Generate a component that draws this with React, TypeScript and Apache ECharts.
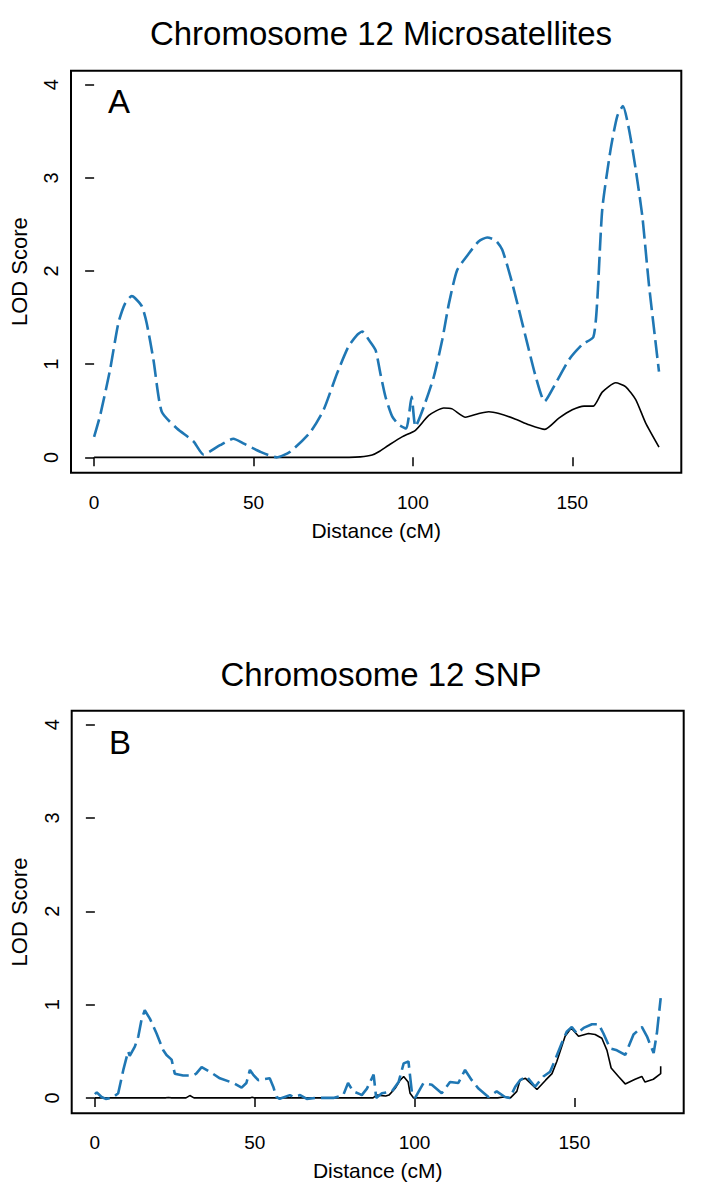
import React, { useEffect, useRef } from "react";
import * as echarts from "echarts";

const FONT = "'Liberation Sans', Arial, Helvetica, sans-serif";
const BLUE = "#1f77b4";

const xTicks = [0, 50, 100, 150];
const yTicks = [0, 1, 2, 3, 4];

const titleA = "Chromosome 12 Microsatellites";
const titleB = "Chromosome 12 SNP";
const xName = "Distance (cM)";
const yName = "LOD Score";

// Panel A (microsatellites): [distance cM, LOD]
const microSolid = [
  [0, 0], [20, 0], [40, 0], [60, 0], [80, 0], [83.5, 0.005], [87.2, 0.025], [89.3, 0.06],
  [92.4, 0.13], [96.6, 0.22], [100.8, 0.29], [105, 0.45], [109.7, 0.53], [112.3, 0.52],
  [116.5, 0.43], [120.7, 0.47], [123.8, 0.49], [127, 0.47], [132.2, 0.41], [136.4, 0.35],
  [141.4, 0.3], [145.8, 0.42], [150, 0.51], [153.7, 0.55], [156.6, 0.55], [159.4, 0.7],
  [163.6, 0.8], [166.7, 0.76], [169.9, 0.62], [173, 0.37], [177.2, 0.11],
];
const microDashed = [
  [0, 0.22], [1.9, 0.45], [5, 0.94], [7.6, 1.44], [9.7, 1.65], [11.8, 1.73], [12.8, 1.71],
  [15, 1.62], [16.5, 1.44], [18.6, 1.05], [21.2, 0.49], [26, 0.31], [31.2, 0.17], [34.3, 0.03],
  [39.5, 0.13], [43.7, 0.2], [46.8, 0.15], [52.1, 0.06], [57.3, 0], [61.5, 0.06], [67.8, 0.27],
  [72, 0.51], [76.2, 0.9], [79.8, 1.19], [82.4, 1.31], [84.1, 1.35], [86.2, 1.26], [88.3, 1.15],
  [89.8, 0.9], [91.4, 0.65], [93.5, 0.44], [95.6, 0.35], [97.9, 0.31], [99.6, 0.65], [100.8, 0.33],
  [103.4, 0.54], [106.6, 0.87], [109.2, 1.26], [111.3, 1.65], [113.9, 2.01], [117.6, 2.19],
  [120.7, 2.32], [123.3, 2.36], [125.9, 2.33], [128, 2.23], [130.6, 1.94], [133.3, 1.58],
  [135.9, 1.22], [138.5, 0.87], [141.3, 0.6], [144.7, 0.79], [149, 1.05], [153.1, 1.21],
  [156.6, 1.29], [157.8, 1.66], [159.4, 2.66], [162, 3.3], [164.1, 3.66], [165.9, 3.77],
  [167.8, 3.52], [169.9, 3.09], [172, 2.58], [174, 1.87], [177.2, 0.92],
];

// Panel B (SNP): [distance cM, LOD]
const snpSolid = [
  [0, 0], [22, 0], [23, 0.005], [24, 0], [28.5, 0], [29.7, 0.025], [31, 0], [48.5, 0],
  [49.2, 0.008], [50, 0], [87, 0], [88.2, 0.03], [91, 0.02], [92, 0.03], [93.9, 0.1],
  [95.5, 0.19], [96.6, 0.23], [98, 0.17], [98.6, 0.05], [99.7, 0], [126, 0], [128, 0.01],
  [130, 0], [132, 0.07], [133, 0.19], [134.7, 0.21], [138.3, 0.09], [141, 0.19], [143, 0.26],
  [144.5, 0.39], [147.1, 0.66], [149, 0.75], [151.3, 0.66], [154.4, 0.69], [156.5, 0.68],
  [158.6, 0.64], [160.2, 0.51], [161.5, 0.32], [163.8, 0.23], [165.9, 0.15], [169, 0.2],
  [171.1, 0.23], [172.1, 0.17], [174.7, 0.2], [177, 0.26], [177, 0.34],
];
const snpDashed = [
  [0, 0.04], [0.6, 0.06], [2.1, 0.01], [3.4, -0.01], [5.5, 0], [7.3, 0.05], [8.9, 0.3],
  [10.4, 0.5], [10.9, 0.45], [12.5, 0.55], [13.6, 0.66], [14.6, 0.84], [15.6, 0.94],
  [17.2, 0.85], [19.3, 0.69], [21.4, 0.51], [22.4, 0.46], [24, 0.41], [25, 0.26], [27.6, 0.24],
  [30.7, 0.24], [31.7, 0.26], [33.4, 0.33], [36, 0.28], [39.1, 0.21], [43.3, 0.16], [45.9, 0.11],
  [47.4, 0.16], [48.5, 0.3], [49.5, 0.25], [51.1, 0.19], [54.7, 0.21], [55.8, 0.12], [56.8, 0.01],
  [57.8, -0.01], [61, 0.03], [62.1, 0.01], [64.2, 0.03], [66.3, -0.01], [69.4, 0], [74.6, 0],
  [77.7, 0.03], [79.2, 0.16], [80.8, 0.07], [82.9, 0.04], [83.5, 0.03], [85.1, 0.1], [87.2, 0.25],
  [88, 0], [89.8, 0.05], [92.9, 0.07], [95, 0.17], [96.6, 0.37], [98.1, 0.39], [99.2, 0.05],
  [100.2, 0], [101.8, 0.1], [102.8, 0.16], [105.4, 0.14], [108.5, 0.05], [111.1, 0.17],
  [113.7, 0.16], [115.8, 0.3], [117.9, 0.19], [120, 0.1], [123.1, 0.01], [125.7, 0.07],
  [128.3, 0.01], [129.8, 0], [131.5, 0.12], [133, 0.19], [135.1, 0.23], [137.7, 0.12],
  [140.3, 0.23], [142.4, 0.28], [144, 0.41], [146.1, 0.59], [147.6, 0.71], [149.2, 0.76],
  [150.8, 0.69], [152.9, 0.75], [155.5, 0.79], [157.6, 0.79], [159.1, 0.69], [161.2, 0.53],
  [163.3, 0.51], [165.9, 0.46], [168.5, 0.68], [171.1, 0.76], [172.7, 0.66], [174.8, 0.48],
  [175.8, 0.69], [177, 1.07],
];

function xAxisFor(gridIndex: number) {
  return {
    type: "value",
    gridIndex,
    min: -7.25,
    max: 184.2,
    name: xName,
    nameLocation: "middle",
    nameGap: 47,
    nameTextStyle: { fontFamily: FONT, fontSize: 21, color: "#000" },
    axisLine: { show: false },
    splitLine: { show: false },
    axisTick: { show: true, length: 9, customValues: xTicks, lineStyle: { color: "#000", width: 1.5 } },
    axisLabel: { customValues: xTicks, margin: 20, fontFamily: FONT, fontSize: 19, color: "#000" },
  };
}

function yAxisFor(gridIndex: number) {
  return {
    type: "value",
    gridIndex,
    min: -0.165,
    max: 4.15,
    name: yName,
    nameLocation: "middle",
    nameRotate: 90,
    nameGap: 41,
    nameTextStyle: { fontFamily: FONT, fontSize: 22, color: "#000" },
    axisLine: { show: false },
    splitLine: { show: false },
    axisTick: { show: true, length: 9, customValues: yTicks, lineStyle: { color: "#000", width: 1.5 } },
    axisLabel: { customValues: yTicks, rotate: 90, margin: 10, fontFamily: FONT, fontSize: 20, color: "#000" },
  };
}

export default function App() {
  const ref = useRef<HTMLDivElement>(null);
  useEffect(() => {
    if (!ref.current) return;
    const chart = echarts.init(ref.current, undefined, { renderer: "svg" });
    chart.setOption({
      animation: false,
      backgroundColor: "#fff",
      title: [
        { text: titleA, left: 376, top: 12, textAlign: "center",
          textStyle: { fontFamily: FONT, fontSize: 33, fontWeight: "normal", color: "#000" } },
        { text: titleB, left: 376, top: 653, textAlign: "center",
          textStyle: { fontFamily: FONT, fontSize: 33, fontWeight: "normal", color: "#000" } },
      ],
      grid: [
        { left: 71, top: 70.7, width: 610.3, height: 402, show: true, borderColor: "#000", borderWidth: 2, backgroundColor: "transparent" },
        { left: 71.7, top: 710.7, width: 612, height: 402.6, show: true, borderColor: "#000", borderWidth: 2, backgroundColor: "transparent" },
      ],
      xAxis: [xAxisFor(0), xAxisFor(1)],
      yAxis: [yAxisFor(0), yAxisFor(1)],
      graphic: [
        { type: "text", x: 119, y: 101, style: { text: "A", fontFamily: FONT, fontSize: 33, fill: "#000", textAlign: "center", textVerticalAlign: "middle" } },
        { type: "text", x: 120, y: 742, style: { text: "B", fontFamily: FONT, fontSize: 33, fill: "#000", textAlign: "center", textVerticalAlign: "middle" } },
      ],
      series: [
        { type: "line", xAxisIndex: 0, yAxisIndex: 0, data: microSolid, showSymbol: false, smooth: 0.2,
          lineStyle: { color: "#000", width: 1.6 }, z: 2 },
        { type: "line", xAxisIndex: 0, yAxisIndex: 0, data: microDashed, showSymbol: false, smooth: 0.2,
          lineStyle: { color: BLUE, width: 2.6, type: [18, 6] }, z: 3 },
        { type: "line", xAxisIndex: 1, yAxisIndex: 1, data: snpSolid, showSymbol: false,
          lineStyle: { color: "#000", width: 1.6 }, z: 2 },
        { type: "line", xAxisIndex: 1, yAxisIndex: 1, data: snpDashed, showSymbol: false,
          lineStyle: { color: BLUE, width: 2.6, type: [18, 6] }, z: 3 },
      ],
    });
    return () => chart.dispose();
  }, []);
  return <div ref={ref} style={{ position: "absolute", left: 0, top: 0, width: 725, height: 1200 }} />;
}
